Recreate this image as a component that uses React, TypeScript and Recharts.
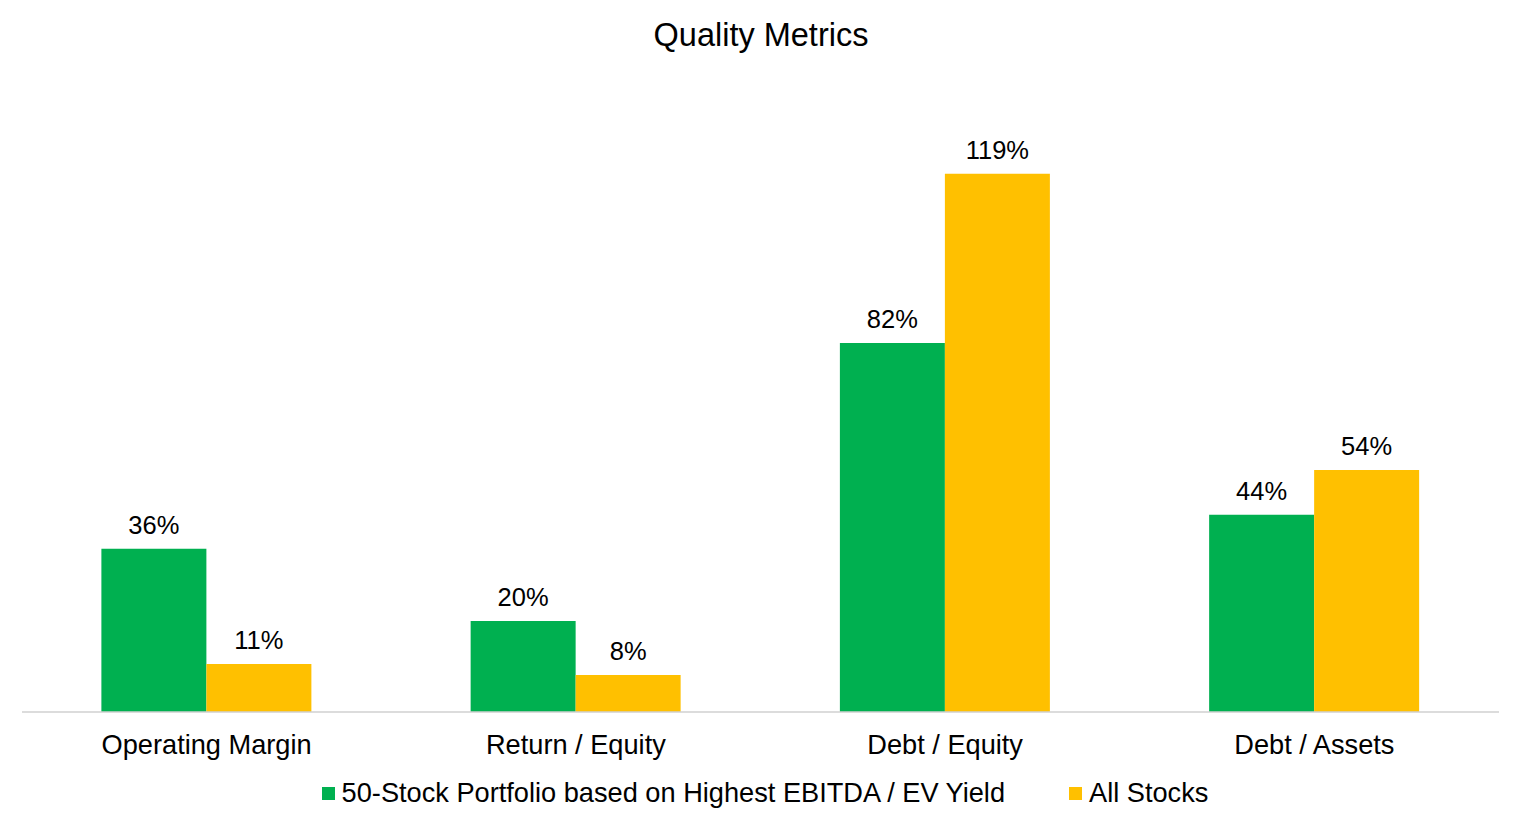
import { BarChart, Bar, XAxis, YAxis, LabelList, Legend } from 'recharts'

const categories = ['Operating Margin', 'Return / Equity', 'Debt / Equity', 'Debt / Assets']
const portfolio = [36.1, 20.1, 81.6, 43.6]
const allStocks = [10.6, 8.2, 119.0, 53.5]
const seriesNames = ['50-Stock Portfolio based on Highest EBITDA / EV Yield', 'All Stocks']
const colors = ['#00B050', '#FFC000']

const data = categories.map((name, i) => ({
  name,
  portfolio: portfolio[i],
  allStocks: allStocks[i],
}))

const font = 'Arial, "Liberation Sans", sans-serif'
const pct = (v: unknown) => `${Math.round(Number(v))}%`

function LegendRow() {
  return (
    <div style={{ display: 'flex', justifyContent: 'center', alignItems: 'center', height: 30, paddingLeft: 8, fontFamily: font, fontSize: 27.2, color: '#000' }}>
      {seriesNames.map((s, i) => (
        <div key={s} style={{ display: 'flex', alignItems: 'center', marginLeft: i ? 64 : 0 }}>
          <span style={{ width: 13, height: 13, background: colors[i], marginRight: 7, display: 'inline-block' }} />
          <span>{s}</span>
        </div>
      ))}
    </div>
  )
}

export default function App() {
  return (
    <div style={{ position: 'absolute', left: 0, top: 0, width: 1522, height: 828, background: '#fff' }}>
      <div style={{ position: 'absolute', top: 17, width: 1522, textAlign: 'center', fontFamily: font, fontSize: 32.5, color: '#000' }}>
        Quality Metrics
      </div>
      <BarChart
        width={1522}
        height={828}
        data={data}
        margin={{ top: 124, right: 23, left: 22, bottom: 36 }}
        barCategoryGap="21.5%"
        barGap={0}
      >
        <XAxis
          dataKey="name"
          height={50}
          tickLine={false}
          tickMargin={17}
          axisLine={{ stroke: '#D0D0D0', strokeWidth: 1.5 }}
          tick={{ fill: '#000', fontSize: 27.2, fontFamily: font }}
        />
        <YAxis hide domain={[0, 130]} />
        <Legend
          verticalAlign="bottom"
          content={() => <LegendRow />}
          wrapperStyle={{ left: 0, width: 1522, top: 778 }}
        />
        <Bar dataKey="portfolio" name={seriesNames[0]} fill={colors[0]} isAnimationActive={false}>
          <LabelList dataKey="portfolio" position="top" offset={15} formatter={pct} style={{ fill: '#000', fontSize: 25.5, fontFamily: font }} />
        </Bar>
        <Bar dataKey="allStocks" name={seriesNames[1]} fill={colors[1]} isAnimationActive={false}>
          <LabelList dataKey="allStocks" position="top" offset={15} formatter={pct} style={{ fill: '#000', fontSize: 25.5, fontFamily: font }} />
        </Bar>
      </BarChart>
    </div>
  )
}
